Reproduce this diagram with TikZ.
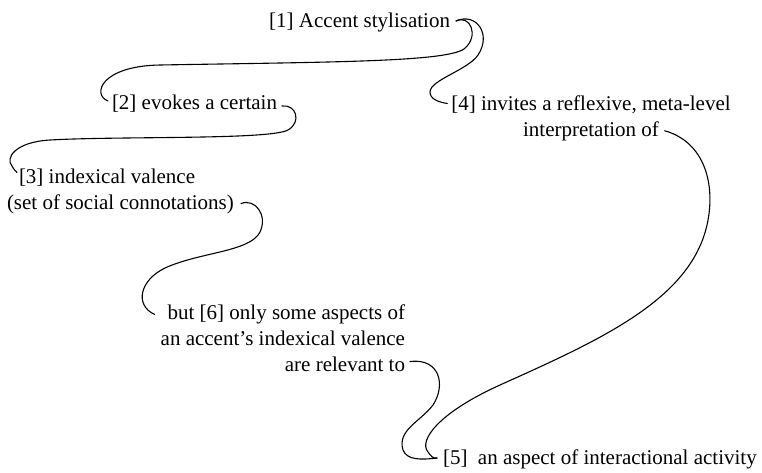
\documentclass[tikz,border=0pt]{standalone}
\usepackage{fontspec}
\setmainfont{Liberation Serif}
\usetikzlibrary{calc}
\begin{document}
\begin{tikzpicture}[x=1pt,y=-1pt,
  txt/.style={inner sep=0pt, outer sep=0pt, font=\rmfamily\fontsize{21}{26}\selectfont},
  link/.style={line width=1.1pt, line cap=round, draw=black}]
\useasboundingbox (0,0) rectangle (762,472);
% nodes
\node[txt, anchor=base east] (n1) at (450,27) {[1] Accent stylisation};
\node[txt, anchor=base west] (n2) at (112,109) {[2] evokes a certain};
\node[txt, anchor=north west, align=left] (n3) at (7,168.5) {\hspace*{12pt}[3] indexical valence\\(set of social connotations)};
\node[txt, anchor=north, align=center] (n4) at (591,95.5) {[4] invites a reflexive, meta-level\\interpretation of};
\node[txt, anchor=north east, align=right] (n6) at (405,304.5) {but [6] only some aspects of\\an accent's indexical valence\\are relevant to};
\node[txt, anchor=base west] (n5) at (443,464) {[5]\ \ an aspect of interactional activity};
% connector ends
\coordinate (s1) at ($(n1.base east)+(6,-6)$);
\coordinate (e2) at ($(n2.base west)+(-4,-8)$);
\coordinate (e4) at ($(n4.north west)+(-4,8)$);
\coordinate (s2) at ($(n2.base east)+(5,-3)$);
\coordinate (e3) at ($(n3.north west)+(10,4)$);
\coordinate (s3) at ($(n3.south west)+(234,-10)$);
\coordinate (e6) at ($(n6.north west)+(-6,10)$);
\coordinate (s6) at ($(n6.south east)+(5,-10)$);
\coordinate (e5) at ($(n5.base west)+(-6,-6)$);
\coordinate (s4) at ($(n4.south east)+(-66,-10)$);
% connectors
\draw[link] (s1) .. controls (470,14) and (480,36) .. (464,49)
  .. controls (445,62) and (330,62) .. (160,65)
  .. controls (100,66) and (92,95) .. (e2);
\draw[link] (s1) .. controls (476,12) and (492,34) .. (478,55)
  .. controls (468,70) and (430,80) .. (430,92)
  .. controls (430,99) and (438,102) .. (e4);
\draw[link] (s2) .. controls (296,104) and (302,122) .. (288,130)
  .. controls (270,140) and (120,136) .. (50,140)
  .. controls (15,142) and (5,158) .. (12,166)
  .. controls (14,170) and (16,171) .. (e3);
\draw[link] (s3) .. controls (255,198) and (268,215) .. (260,232)
  .. controls (250,252) and (200,252) .. (165,268)
  .. controls (140,280) and (134,305) .. (e6);
\draw[link] (s6) .. controls (440,358) and (446,385) .. (433,405)
  .. controls (420,422) and (397,430) .. (403,450)
  .. controls (407,460) and (420,460) .. (e5);
\draw[link] (s4) .. controls (705,142) and (716,185) .. (707,225)
  .. controls (690,300) and (600,340) .. (500,385)
  .. controls (440,412) and (418,440) .. (428,452)
  .. controls (431,456) and (433,459) .. (e5);
\end{tikzpicture}
\end{document}
